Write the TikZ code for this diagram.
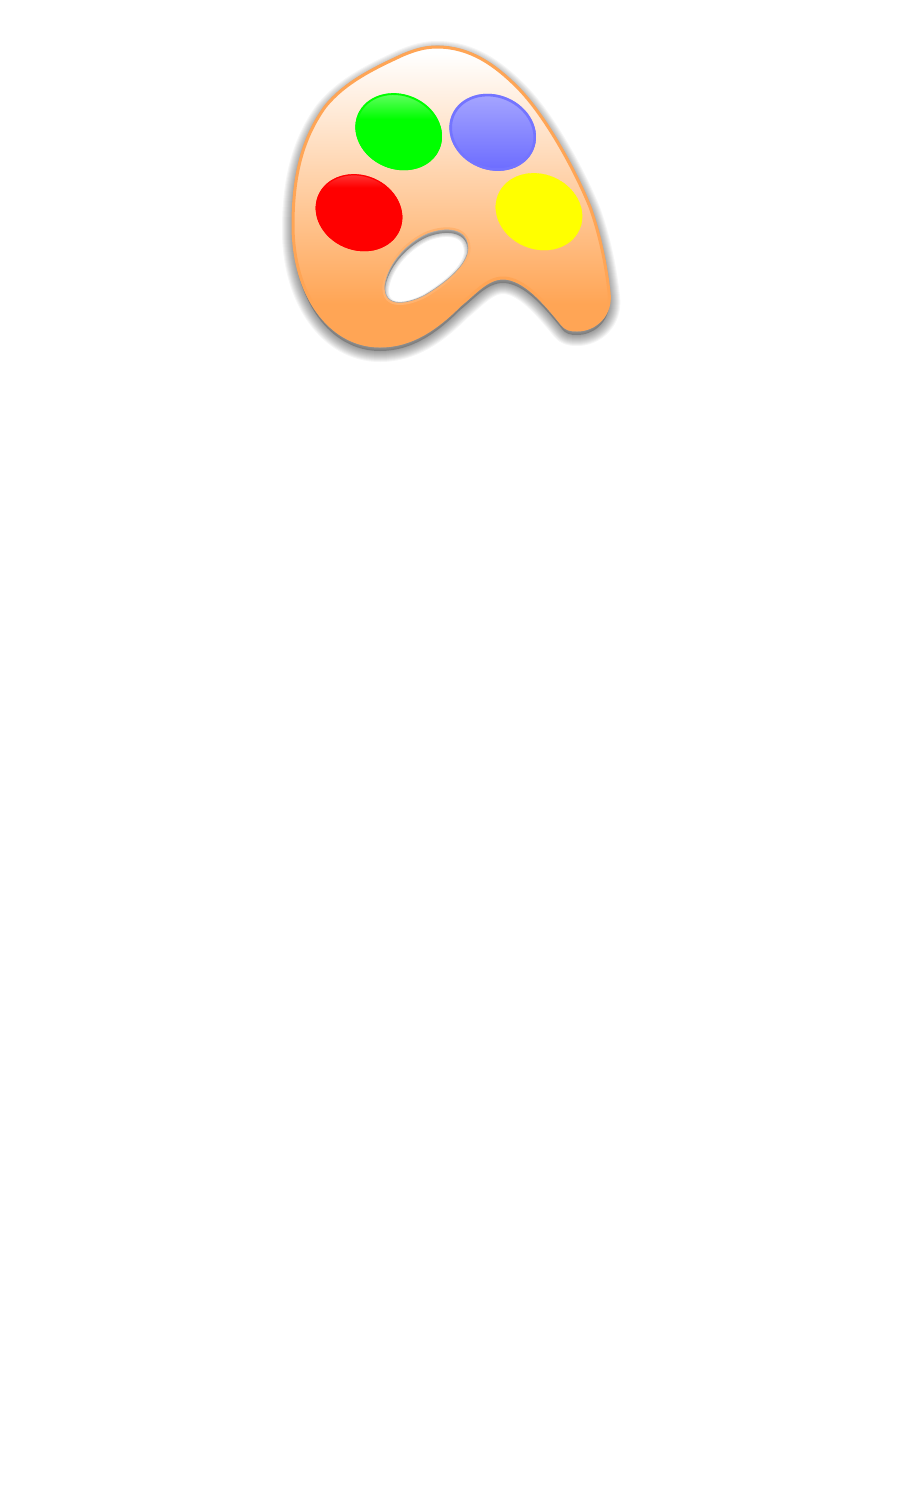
\documentclass[tikz,border=0pt]{standalone}
\usepackage{fontspec}
\setmainfont{Noto Sans}
\definecolor{palor}{HTML}{FFA555}
\definecolor{rimgray}{HTML}{A8A8A8}
\definecolor{pgreen}{HTML}{00FF00}
\definecolor{pgreenl}{HTML}{66FF66}
\definecolor{pblue}{HTML}{6B6BFF}
\definecolor{pbluel}{HTML}{A6A6FF}
\definecolor{pred}{HTML}{FF0000}
\definecolor{predl}{HTML}{FF3A3A}
\definecolor{pyellow}{HTML}{FFFF00}
\pgfdeclareverticalshading{palshade}{100bp}{color(0bp)=(palor); color(32bp)=(palor); color(74bp)=(white); color(100bp)=(white)}
\pgfdeclareverticalshading{greenshade}{100bp}{color(0bp)=(pgreen); color(58bp)=(pgreen); color(75bp)=(pgreenl); color(100bp)=(pgreenl)}
\pgfdeclareverticalshading{redshade}{100bp}{color(0bp)=(pred); color(66bp)=(pred); color(75bp)=(predl); color(100bp)=(predl)}
\pgfdeclareverticalshading{blueshade}{100bp}{color(0bp)=(pblue); color(25bp)=(pblue); color(75bp)=(pbluel); color(100bp)=(pbluel)}
\pgfdeclareverticalshading{yellowshade}{100bp}{color(0bp)=(pyellow); color(100bp)=(pyellow)}
\newcommand{\palettepath}{(437,47) .. controls (470,47) and (495,65) .. (517,87)
 .. controls (545,115) and (575,170) .. (590,207)
 .. controls (600,235) and (606,265) .. (609,292)
 .. controls (612,315) and (595,330) .. (577,330)
 .. controls (570,330) and (566,329) .. (562,324)
 .. controls (545,303) and (524,278) .. (503,278)
 .. controls (487,278) and (475,293) .. (460,305)
 .. controls (437,328) and (412,346) .. (380,346)
 .. controls (330,346) and (293,295) .. (293,225)
 .. controls (293,170) and (305,135) .. (325,107)
 .. controls (345,82) and (375,68) .. (403,55)
 .. controls (415,50) and (425,47) .. (437,47) -- cycle}
\newcommand{\holepath}{(385,285) .. controls (388,265) and (405,245) .. (425,235)
 .. controls (440,228) and (467,225) .. (468,248)
 .. controls (468,265) and (445,283) .. (425,295)
 .. controls (410,303) and (383,310) .. (385,285) -- cycle}
\newcommand{\paintblob}[5]{%
  \begin{scope}
    \clip[shift={(#1,#2)},rotate=-23] (0,0) ellipse [x radius=44.3,y radius=37.4];
    \path[shading=#3] (#1-50,#2-39.5) rectangle (#1+50,#2+39.5);
    \draw[#4,line width=#5,shift={(#1,#2)},rotate=-23] (0,0) ellipse [x radius=44.3,y radius=37.4];
  \end{scope}}
\tikzset{
  x=0.5pt,y=-0.5pt,
  credit/.style={text=white,anchor=base,inner sep=0pt,font=\fontsize{18.5}{22}\selectfont}
}
\begin{document}
\begin{tikzpicture}
\useasboundingbox (0,0) rectangle (900,1500);
\fill[white] (0,0) rectangle (900,1500);
% soft shadow
\fill[black,opacity=0.2,yshift=-2.5pt] \palettepath;
\foreach \w in {1,2,...,11}{
  \draw[black,opacity=0.04,line width=\w*1pt,line join=round,yshift=-2.5pt] \palettepath;
}
% palette body
\draw[rimgray,line width=1.3pt] \palettepath;
\path[shading=palshade,draw=palor,line width=1.5pt] \palettepath;
% hole
\draw[palor!85!white,line width=2.6pt] \holepath;
\begin{scope}
  \clip \holepath;
  \fill[white] \holepath;
  \fill[black,opacity=0.3,even odd rule] (300,200) rectangle (500,330) [yshift=-1.5pt] \holepath;
  \foreach \w in {1,2,3,4}{
    \draw[black,opacity=0.06,line width=\w*1pt,yshift=-1.5pt] \holepath;
  }
\end{scope}
\draw[rimgray,line width=0.3pt] \holepath;
% paint blobs
\paintblob{398.7}{131.7}{greenshade}{pgreen}{1.8pt}
\paintblob{492.7}{132.3}{blueshade}{pblue!85!pbluel}{2.6pt}
\paintblob{359}{212.7}{redshade}{pred}{1.2pt}
\paintblob{539}{211.7}{yellowshade}{pyellow}{0.1pt}
% text
\node[credit] (t1) at (450,405) {Coloring Book};
\node[credit] (t2) at (450,449) {v1.0};
\node[credit] (t3) at (450,537) {© 2013 Chromix.com};
\node[credit] (t4) at (450,581) {All Rights Reserved};
\node[credit] (t5) at (450,669) {www.chromix.com};
\node[credit] (t6) at (450,757) {CREDITS};
\node[credit] (t7) at (450,845) {\textasciitilde{} Designer \textasciitilde};
\node[credit] (t8) at (450,889) {Byron Sanchez};
\node[credit] (t9) at (450,977) {\textasciitilde{} Developer \textasciitilde};
\node[credit] (t10) at (450,1021) {Byron Sanchez};
\node[credit] (t11) at (450,1109) {\textasciitilde{} Graphics Artist \textasciitilde};
\node[credit] (t12) at (450,1153) {Byron Sanchez};
\node[credit] (t13) at (450,1241) {\textasciitilde{} Music \textasciitilde};
\node[credit] (t14) at (450,1285) {Kevin MacLeod - Desperate Thought};
\node[credit] (t15) at (450,1329) {www.incompetech.com};
\node[credit] (t16) at (450,1417) {\textasciitilde{} Licensing Information \textasciitilde};
\node[credit] (t17) at (450,1461) {www.chromix.com/coloringbook/license};
\end{tikzpicture}
\end{document}
